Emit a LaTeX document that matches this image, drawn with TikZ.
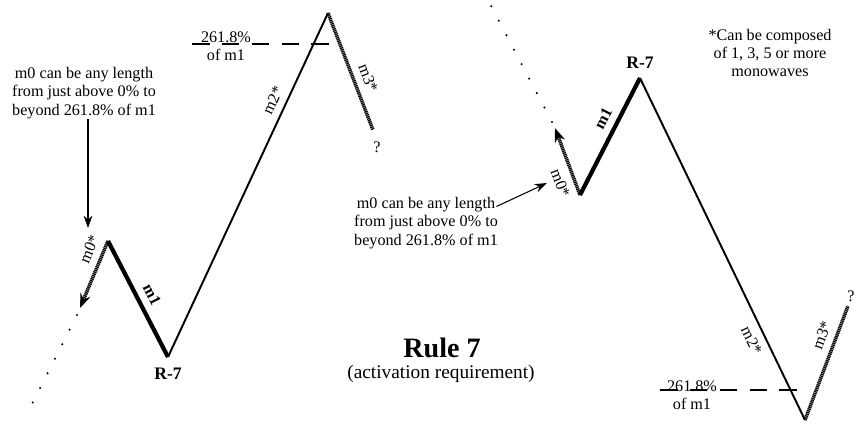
\documentclass[tikz,border=0pt]{standalone}
\usepackage{fontspec}
\setmainfont{Liberation Serif}
\usetikzlibrary{arrows.meta}
\tikzset{
  wline/.style={line width=1.1pt},
  mline/.style={line width=2.4pt},
  hatch/.style={line width=2pt,dash pattern=on 0.7pt off 0.35pt},
  trail/.style={line width=1.3pt,line cap=round,dash pattern=on 0pt off 9.3pt},
  lvl/.style={line width=0.9pt,dash pattern=on 10pt off 7pt},
  callout/.style={line width=0.6pt,-{Stealth[length=7pt,width=5pt]}},
  tip/.style={-{Stealth[length=8pt,width=6pt]}},
  txt/.style={font=\fontsize{9.2}{10.5}\selectfont,align=center,inner sep=0pt},
  wlab/.style={font=\fontsize{9.2}{10.5}\selectfont,sloped,inner sep=4pt},
  blab/.style={wlab,font=\fontsize{9.2}{10.5}\selectfont\bfseries},
  rlab/.style={font=\fontsize{10}{12}\selectfont\bfseries,inner sep=0pt}
}
\begin{document}
\begin{tikzpicture}[x=0.02cm,y=-0.02cm]
  \useasboundingbox (0,0) rectangle (856,426);
  % left wave
  \coordinate (ltrail) at (26,416); \coordinate (ldot) at (77,315); \coordinate (ltip) at (80,308);
  \coordinate (lstart) at (108,241); \coordinate (lr7) at (168,357); \coordinate (ltop) at (328,13); \coordinate (lend) at (373,130);
  \draw[trail] (ldot) -- (ltrail);
  \draw[hatch,tip] (lstart) -- node[wlab,pos=0.2,above] {m0*} (ltip);
  \draw[mline] (lstart) -- node[blab,pos=0.52,above] {m1} (lr7);
  \draw[wline] (lr7) -- node[wlab,pos=0.73,above] {m2*} (ltop);
  \draw[hatch] (ltop) -- node[wlab,pos=0.6,above] {m3*} (lend);
  \node[txt] (lq) at (377,147) {?};
  \node[rlab,below=6pt] (lr7lab) at (lr7) {R-7};
  \coordinate (llvla) at (192,44); \coordinate (llvlb) at (333,44);
  \draw[lvl] (llvla) -- (llvlb);
  \node[txt] (llvl) at (226,46) {261.8\%\\of m1};
  \node[txt] (lnote) at (84,93) {m0 can be any length\\from just above 0\% to\\beyond 261.8\% of m1};
  \coordinate (lpoint) at (88,228);
  \draw[callout] (lnote.south -| lpoint) -- (lpoint);
  % right wave
  \coordinate (rtrail) at (490,4); \coordinate (rdot) at (552,122); \coordinate (rtip) at (555,128);
  \coordinate (rstart) at (580,195); \coordinate (rr7) at (640,78); \coordinate (rlow) at (805,420); \coordinate (rend) at (848,306);
  \draw[trail] (rdot) -- (rtrail);
  \draw[hatch,tip] (rstart) -- node[wlab,pos=0.25,below] {m0*} (rtip);
  \draw[mline] (rstart) -- node[blab,pos=0.6,above] {m1} (rr7);
  \draw[wline] (rr7) -- node[wlab,pos=0.75,below] {m2*} (rlow);
  \draw[hatch] (rlow) -- node[wlab,pos=0.7,above] {m3*} (rend);
  \node[txt] (rq) at (851,296) {?};
  \node[rlab,above=5pt] (rr7lab) at (rr7) {R-7};
  \coordinate (rlvla) at (660,390); \coordinate (rlvlb) at (800,390);
  \draw[lvl] (rlvla) -- (rlvlb);
  \node[txt] (rlvl) at (692,395) {261.8\%\\of m1};
  \node[txt] (rnote) at (426,223) {m0 can be any length\\from just above 0\% to\\beyond 261.8\% of m1};
  \coordinate (rpoint) at (547,183);
  \draw[callout] ([xshift=-1pt,yshift=-5.5pt]rnote.north east) -- (rpoint);
  \node[txt] (star) at (770,53) {*Can be composed\\of 1, 3, 5 or more\\monowaves};
  % title
  \node[font=\fontsize{16}{18}\selectfont\bfseries,inner sep=0pt] (rule) at (442,348) {Rule 7};
  \node[font=\fontsize{11}{13}\selectfont,inner sep=0pt] (rsub) at (441,374) {(activation requirement)};
\end{tikzpicture}
\end{document}
